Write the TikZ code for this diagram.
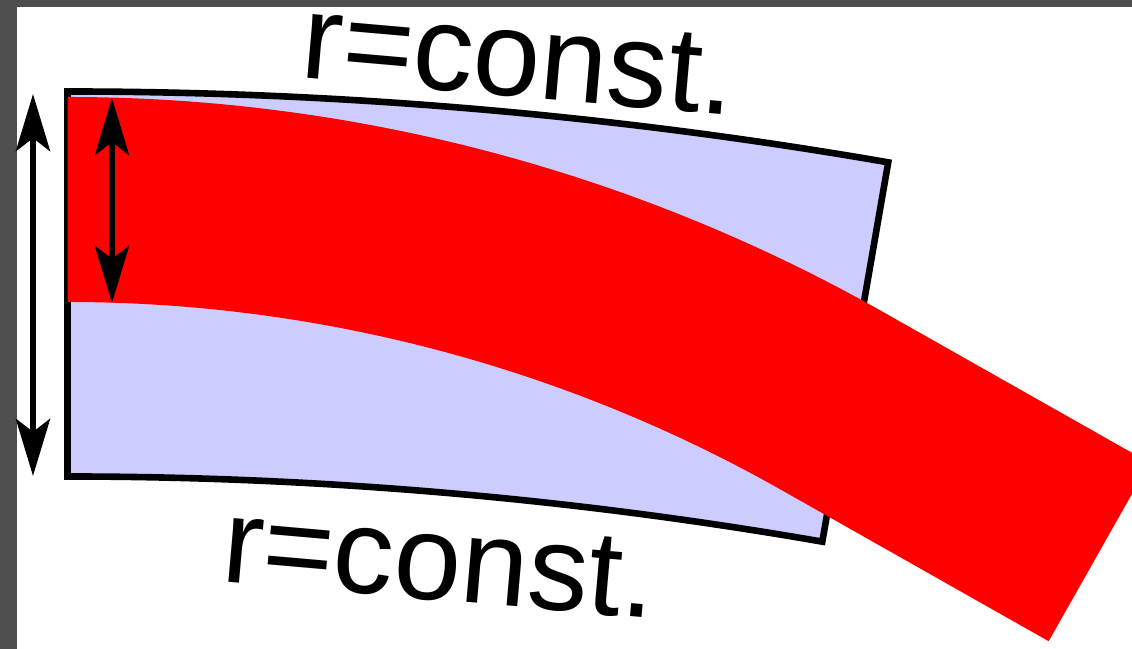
\documentclass[tikz,border=0pt]{standalone}
\usepackage{fontspec}
\setmainfont{Liberation Sans}
\usetikzlibrary{arrows.meta,calc}
\definecolor{framegray}{RGB}{78,78,78}
\definecolor{boxblue}{RGB}{204,204,255}
\definecolor{bandred}{RGB}{255,0,0}
\tikzset{
  outline/.style={draw=black, line width=0.066cm, line join=miter},
  dimarrow/.style={line width=0.066cm, {Stealth[length=0.57cm,width=0.34cm,inset=0.13cm]}-{Stealth[length=0.57cm,width=0.34cm,inset=0.13cm]}},
  lbl/.style={inner sep=0pt, font=\fontsize{34.4}{40}\selectfont, anchor=base, rotate=-5}
}
\begin{document}
\begin{tikzpicture}[x=0.01cm,y=0.01cm]
\useasboundingbox (0,0) rectangle (1132,649);
\clip (0,0) rectangle (1132,649);
\fill[framegray] (0,0) rectangle (1132,649);
\fill[white] (17,0) rectangle (1132,642);
% sector (r = const. boundaries)
\coordinate (CB) at (67.5,-4236);
\filldraw[outline, fill=boxblue] ($(CB)+(90:4793.5)$) arc[start angle=90, end angle=80.14, radius=4793.5]
  -- ($(CB)+(80.14:4408.5)$) arc[start angle=80.14, end angle=90, radius=4408.5] -- cycle;
% red band
\coordinate (CR) at (67.5,-1103);
\fill[bandred] ($(CR)+(90:1655)$) arc[start angle=90, end angle=60.5, radius=1655]
  -- ++(-29.5:307) -- ++(-119.5:205) -- ++(150.5:307)
  arc[start angle=60.5, end angle=90, radius=1450] -- cycle;
% arrows
\coordinate (LT) at (33,555);
\coordinate (LB) at (33,173);
\coordinate (IT) at (112,551);
\coordinate (IB) at (112,346);
\draw[dimarrow] (LT) -- (LB);
\draw[dimarrow] (IT) -- (IB);
% labels
\node[lbl] (toplbl) at (516,552.5) {r=const.};
\node[lbl] (botlbl) at (436.5,49) {r=const.};
\end{tikzpicture}
\end{document}
